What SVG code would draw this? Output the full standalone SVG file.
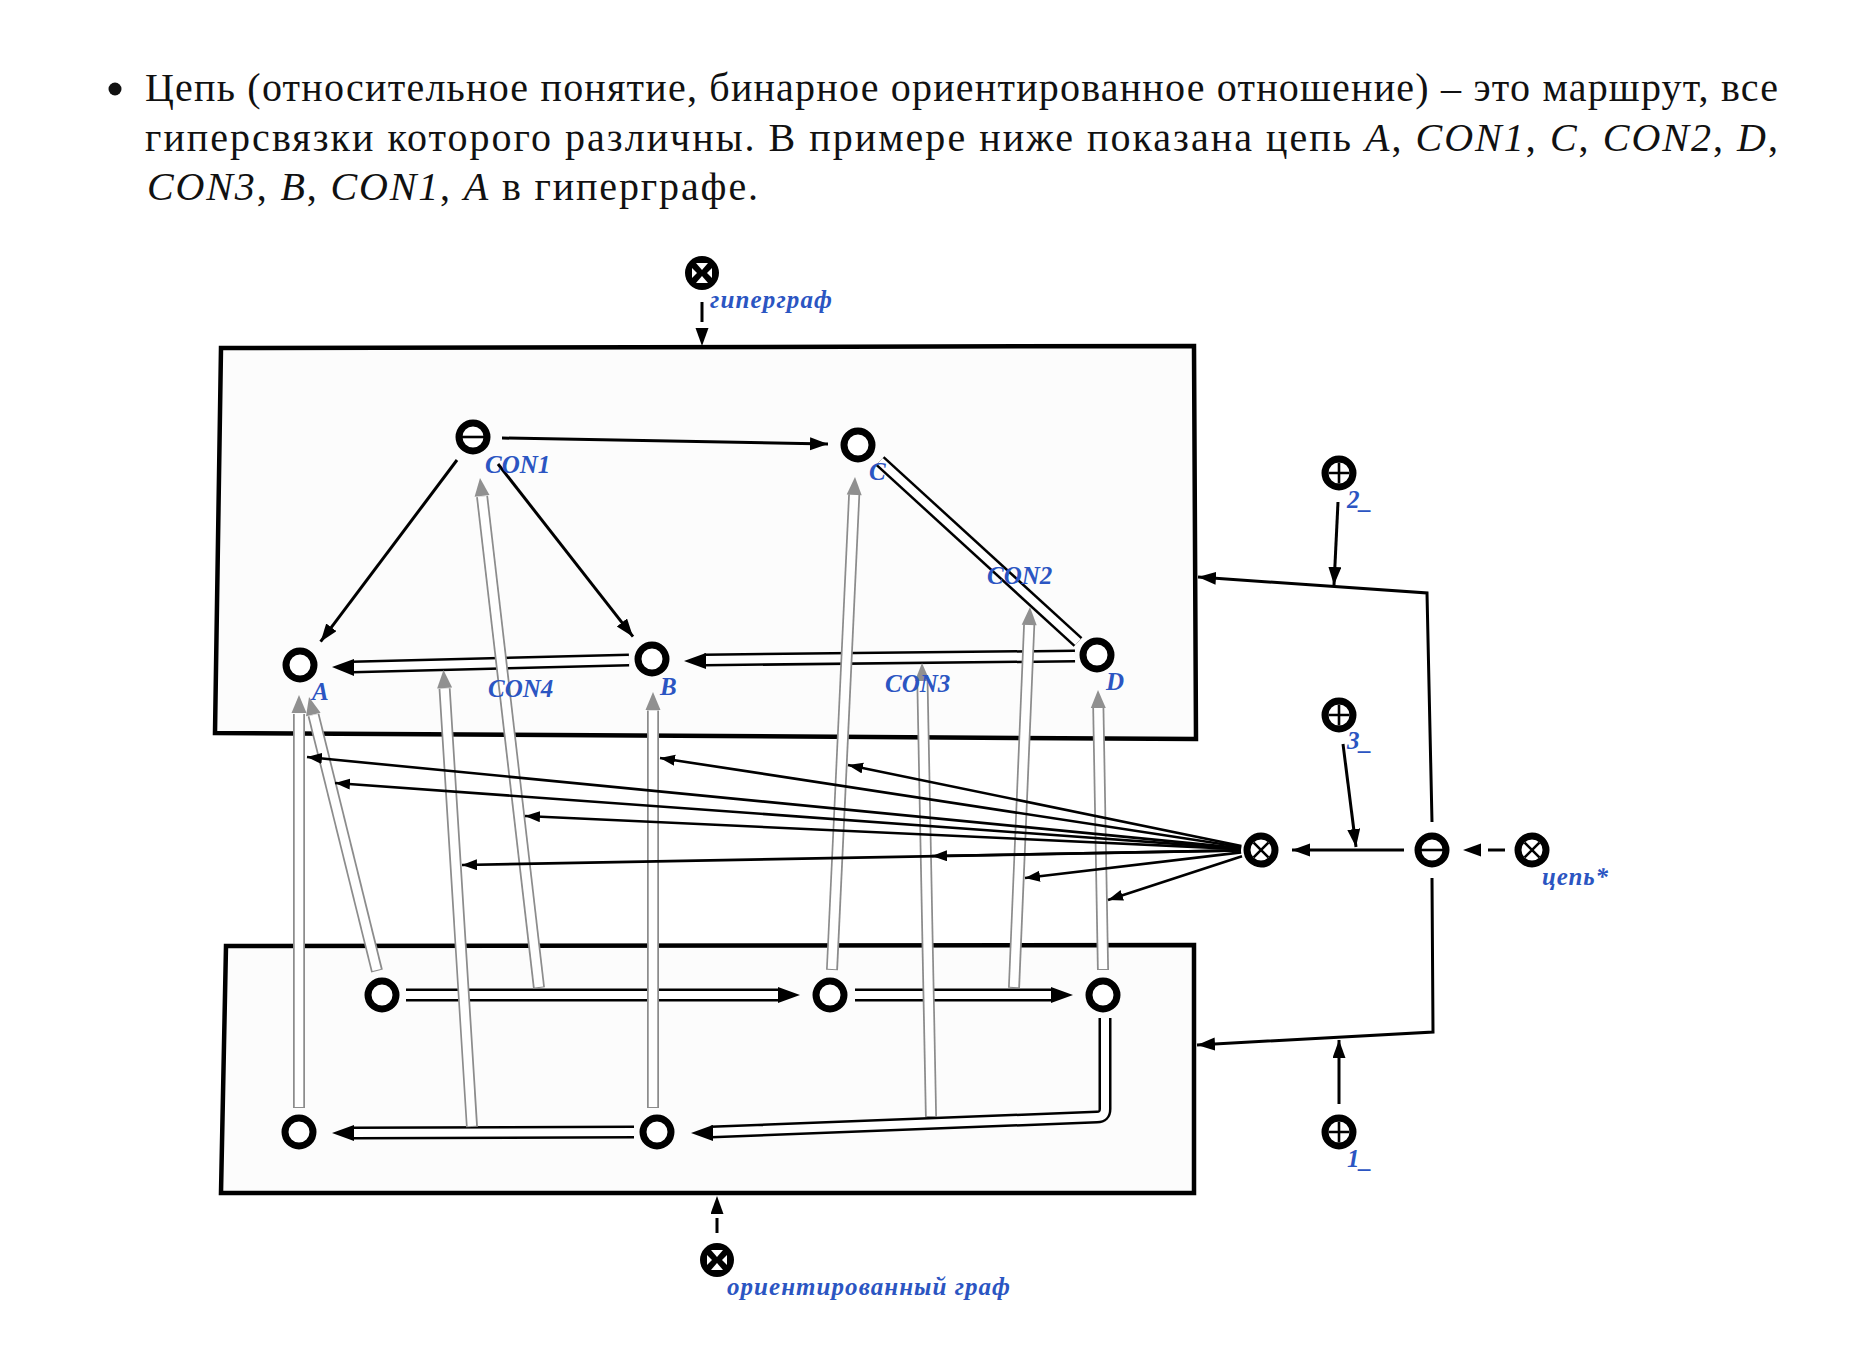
<svg xmlns="http://www.w3.org/2000/svg" width="1862" height="1360" viewBox="0 0 1862 1360">
<style>
.t{font-family:"Liberation Serif","DejaVu Serif",serif;font-size:40px;fill:#111}
.it{font-style:italic}
.lbl{font-family:"Liberation Serif","DejaVu Serif",serif;font-style:italic;font-weight:bold;font-size:25px;fill:#2b55c2}
.box{fill:#fcfcfc;stroke:#000;stroke-width:4.5;stroke-linejoin:miter}
.ring{fill:#fff;stroke:#000;stroke-width:7}
.in{stroke:#000;stroke-width:2.6;fill:none}
.disc{fill:#000}
.wh{fill:#fff}
.e{stroke:#000;stroke-width:3;fill:none}
.f{stroke:#000;stroke-width:2.6;fill:none}
.bo{stroke:#000;stroke-width:13;fill:none;stroke-linejoin:round}
.bi{stroke:#fff;stroke-width:8;fill:none;stroke-linejoin:round}
.go{stroke:#8c8c8c;stroke-width:12;fill:none}
.gi{stroke:#fff;stroke-width:8.5;fill:none}
.bh{fill:#000}
.gh{fill:#909090}
</style>
<defs>
<marker id="ah" markerUnits="userSpaceOnUse" markerWidth="20" markerHeight="14" refX="18" refY="6.5" orient="auto"><path d="M0,0 L18,6.5 L0,13 z" fill="#000"/></marker>
<marker id="ahs" markerUnits="userSpaceOnUse" markerWidth="16" markerHeight="12" refX="15" refY="5.5" orient="auto"><path d="M0,0 L15,5.5 L0,11 z" fill="#000"/></marker>
</defs>
<rect width="1862" height="1360" fill="#fff"/>

<g id="caption">
<circle cx="115" cy="89" r="6.5" fill="#111"/>
<text class="t" x="145" y="101" textLength="1633" lengthAdjust="spacing">Цепь (относительное понятие, бинарное ориентированное отношение) – это маршрут, все</text>
<text class="t" x="145" y="151" textLength="1633" lengthAdjust="spacing">гиперсвязки которого различны. В примере ниже показана цепь <tspan class="it">A</tspan>, <tspan class="it">CON1</tspan>, <tspan class="it">C</tspan>, <tspan class="it">CON2</tspan>, <tspan class="it">D</tspan>,</text>
<text class="t" x="147" y="200" textLength="611" lengthAdjust="spacing"><tspan class="it">CON3</tspan>, <tspan class="it">B</tspan>, <tspan class="it">CON1</tspan>, <tspan class="it">A</tspan> в гиперграфе.</text>
</g>

<g id="hypergraph-box"><path class="box" d="M221,348 L1194,346 L1196,739 L215,733 Z"/></g>
<g id="digraph-box"><path class="box" d="M226,946 L1194,945 L1194,1193 L221,1193 Z"/></g>

<g id="connectors">
<!-- hollow black bars -->
<path class="bo" d="M629,660 L352,667"/><path class="bi" d="M629,660 L352,667"/><polygon class="bh" points="332,667 354,659 354,676"/>
<path class="bo" d="M1075,656 L704,660"/><path class="bi" d="M1075,656 L704,660"/><polygon class="bh" points="684,661 706,653 706,669"/>
<path class="bo" d="M880,461 L1078,642"/><path class="bi" d="M880,461 L1078,642"/>
<path class="bo" d="M406,995 L780,995"/><path class="bi" d="M406,995 L780,995"/><polygon class="bh" points="800,995 778,987 778,1003"/>
<path class="bo" d="M855,995 L1053,995"/><path class="bi" d="M855,995 L1053,995"/><polygon class="bh" points="1073,995 1051,987 1051,1003"/>
<path class="bo" d="M1105,1018 L1105,1109 Q1105,1117 1097,1117 L711,1132"/><path class="bi" d="M1105,1018 L1105,1109 Q1105,1117 1097,1117 L711,1132"/><polygon class="bh" points="691,1133 713,1125 713,1141"/>
<path class="bo" d="M634,1132 L352,1133"/><path class="bi" d="M634,1132 L352,1133"/><polygon class="bh" points="332,1133 354,1125 354,1141"/>

<!-- grey hollow mapping arrows -->
<path class="go" d="M299,1108 L299,714"/><path class="gi" d="M299,1107 L299,714"/><polygon class="gh" points="299,695 306.5,713 291.5,713"/>
<path class="go" d="M377,971 L313.5,715"/><path class="gi" d="M376.7,970 L313.5,715"/><polygon class="gh" points="309,697 320.6,712.7 306,716.3"/>
<path class="go" d="M472,1127 L444.6,688.5"/><path class="gi" d="M471.9,1126 L444.6,688.5"/><polygon class="gh" points="443.5,670 452.1,687.5 437.1,688.5"/>
<path class="go" d="M539,988 L482.1,496.5"/><path class="gi" d="M538.9,987 L482.1,496.5"/><polygon class="gh" points="480,478 489.5,495 474.6,496.8"/>
<path class="go" d="M653,1108 L653,710.5"/><path class="gi" d="M653,1107 L653,710.5"/><polygon class="gh" points="653,692 660.5,710 645.5,710"/>
<path class="go" d="M832,970 L854.2,494.5"/><path class="gi" d="M832,969 L854.2,494.5"/><polygon class="gh" points="855,477 861.7,495.3 846.7,494.6"/>
<path class="go" d="M931,1117 L922.4,680.5"/><path class="gi" d="M931,1116 L922.4,680.5"/><polygon class="gh" points="922,663 929.9,680.9 914.9,681.1"/>
<path class="go" d="M1014,988 L1029.2,624.5"/><path class="gi" d="M1014,987 L1029.2,624.5"/><polygon class="gh" points="1030,607 1036.7,625.3 1021.7,624.7"/>
<path class="go" d="M1103,970 L1098.3,707.5"/><path class="gi" d="M1103,969 L1098.3,707.5"/><polygon class="gh" points="1098,690 1105.8,707.9 1090.8,708.1"/>

<!-- thin edges in hypergraph -->
<line class="e" x1="502" y1="438" x2="828" y2="444" marker-end="url(#ah)"/>
<line class="e" x1="457" y1="460" x2="320.6" y2="641.7" marker-end="url(#ah)"/>
<line class="e" x1="498" y1="464" x2="633" y2="636.7" marker-end="url(#ah)"/>

<!-- fan from the chain node -->
<line class="f" x1="1241.1" y1="848.1" x2="307" y2="757" marker-end="url(#ahs)"/>
<line class="f" x1="1241.1" y1="848.6" x2="335" y2="783" marker-end="url(#ahs)"/>
<line class="f" x1="1241" y1="849.1" x2="525" y2="816" marker-end="url(#ahs)"/>
<line class="f" x1="1241" y1="850.4" x2="462" y2="865" marker-end="url(#ahs)"/>
<line class="f" x1="1241.2" y1="847" x2="660" y2="758" marker-end="url(#ahs)"/>
<line class="f" x1="1241.4" y1="846" x2="848" y2="765" marker-end="url(#ahs)"/>
<line class="f" x1="1241" y1="850.4" x2="932" y2="856" marker-end="url(#ahs)"/>
<line class="f" x1="1241.1" y1="852.4" x2="1025" y2="878" marker-end="url(#ahs)"/>
<line class="f" x1="1242" y1="856.2" x2="1108" y2="900" marker-end="url(#ahs)"/>

<!-- right-hand control structure -->
<line class="e" x1="1404" y1="850" x2="1292" y2="850" marker-end="url(#ah)"/>
<line class="e" x1="1343" y1="744" x2="1356" y2="847" marker-end="url(#ah)"/>
<line class="e" x1="1505" y1="850" x2="1463" y2="850" stroke-dasharray="17 40" marker-end="url(#ah)"/>
<polyline class="e" points="1432,822 1427,593 1198,577" marker-end="url(#ah)"/>
<line class="e" x1="1338" y1="502" x2="1334" y2="585" marker-end="url(#ah)"/>
<polyline class="e" points="1432,878 1433,1032 1197,1045" marker-end="url(#ah)"/>
<line class="e" x1="1339" y1="1104" x2="1339" y2="1040" marker-end="url(#ah)"/>
<line class="e" x1="702" y1="302" x2="702" y2="346" stroke-dasharray="20 40" marker-end="url(#ah)"/>
<line class="e" x1="717" y1="1233" x2="717" y2="1196" stroke-dasharray="15 40" marker-end="url(#ah)"/>
</g>

<g id="node-CON1"><circle class="ring" cx="473" cy="437" r="14"/><line class="in" x1="462" y1="437" x2="484" y2="437" stroke-width="3.2"/><text class="lbl" x="485" y="473">CON1</text></g>
<g id="node-C"><circle class="ring" cx="858" cy="445" r="14"/><text class="lbl" x="869" y="480">C</text></g>
<g id="node-A"><circle class="ring" cx="300" cy="665" r="14"/><text class="lbl" x="312" y="700">A</text></g>
<g id="node-B"><circle class="ring" cx="652" cy="659" r="14"/><text class="lbl" x="660" y="695">B</text></g>
<g id="node-D"><circle class="ring" cx="1097" cy="655" r="14"/><text class="lbl" x="1106" y="690">D</text></g>
<g id="label-CON2"><text class="lbl" x="987" y="584">CON2</text></g>
<g id="label-CON3"><text class="lbl" x="885" y="692">CON3</text></g>
<g id="label-CON4"><text class="lbl" x="488" y="697">CON4</text></g>

<g id="node-P1"><circle class="ring" cx="382" cy="995" r="14"/></g>
<g id="node-P2"><circle class="ring" cx="830" cy="995" r="14"/></g>
<g id="node-P3"><circle class="ring" cx="1103" cy="995" r="14"/></g>
<g id="node-Q1"><circle class="ring" cx="299" cy="1132" r="14"/></g>
<g id="node-Q2"><circle class="ring" cx="657" cy="1132" r="14"/></g>

<g id="node-fan"><circle class="ring" cx="1261" cy="850" r="14"/><path class="in" d="M1253.6,842.6 L1268.4,857.4 M1268.4,842.6 L1253.6,857.4"/></g>
<g id="node-minus"><circle class="ring" cx="1432" cy="850" r="14"/><line class="in" x1="1421" y1="850" x2="1443" y2="850" stroke-width="3"/></g>
<g id="node-chain"><circle class="ring" cx="1532" cy="850" r="14"/><path class="in" d="M1524.6,842.6 L1539.4,857.4 M1539.4,842.6 L1524.6,857.4"/><text class="lbl" x="1542" y="885" textLength="66">цепь*</text></g>
<g id="node-2"><circle class="ring" cx="1339" cy="473" r="14"/><path class="in" d="M1328.5,473 L1349.5,473 M1339,462.5 L1339,483.5"/><text class="lbl" x="1347" y="508">2_</text></g>
<g id="node-3"><circle class="ring" cx="1339" cy="715" r="14"/><path class="in" d="M1328.5,715 L1349.5,715 M1339,704.5 L1339,725.5"/><text class="lbl" x="1347" y="749">3_</text></g>
<g id="node-1"><circle class="ring" cx="1339" cy="1132" r="14"/><path class="in" d="M1328.5,1132 L1349.5,1132 M1339,1121.5 L1339,1142.5"/><text class="lbl" x="1347" y="1167">1_</text></g>

<g id="node-hypergraph"><circle class="disc" cx="702" cy="273" r="17"/><polygon class="wh" points="696,263 708,263 702,270"/><polygon class="wh" points="696,283 708,283 702,276"/><polygon class="wh" points="692,268 692,278 697,273"/><polygon class="wh" points="712,268 712,278 707,273"/><text class="lbl" x="710" y="308" textLength="122">гиперграф</text></g>
<g id="node-digraph"><circle class="disc" cx="717" cy="1260" r="17"/><polygon class="wh" points="711,1250 723,1250 717,1257"/><polygon class="wh" points="711,1270 723,1270 717,1263"/><polygon class="wh" points="707,1255 707,1265 712,1260"/><polygon class="wh" points="727,1255 727,1265 722,1260"/><text class="lbl" x="727" y="1295" textLength="283">ориентированный граф</text></g>
</svg>
